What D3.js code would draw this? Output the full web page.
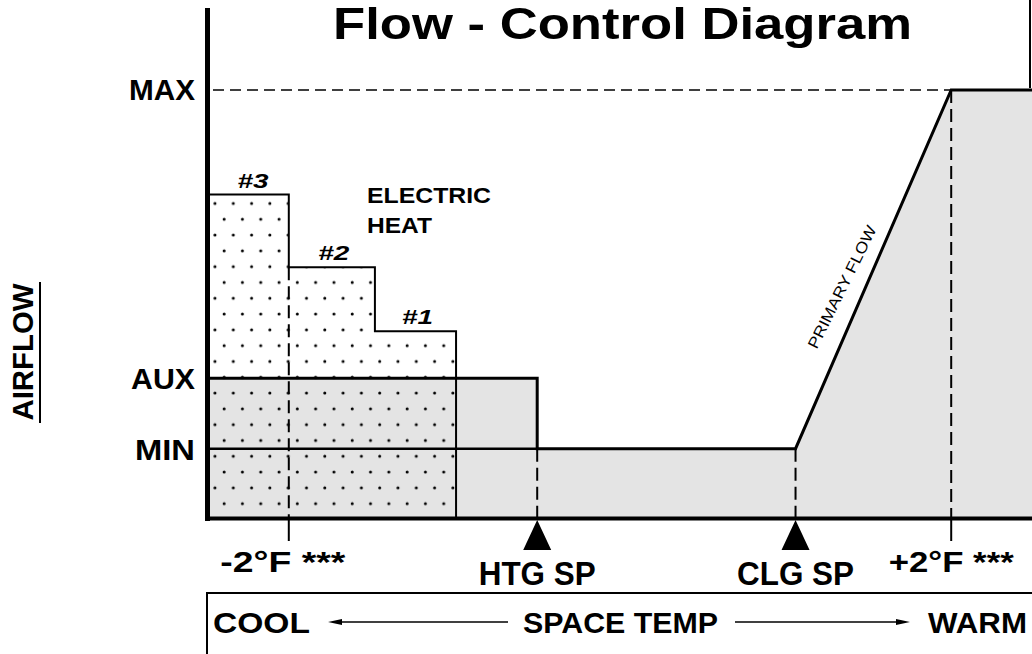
<!DOCTYPE html>
<html>
<head>
<meta charset="utf-8">
<script src="https://cdn.jsdelivr.net/npm/d3@7"></script>
<style>
  body { margin: 0; background: #fff; }
  svg { display: block; font-family: 'Liberation Sans', Arial, sans-serif; }
  text { font-weight: bold; fill: #000; }
</style>
</head>
<body>
<svg width="1032" height="654"></svg>
<script>
  // airflow levels (% of max)
  const levelNames = ['MIN', 'AUX', 'MAX'];
  const levelValues = [16, 32.5, 100];

  // electric heat stages
  const stageNames = ['#3', '#2', '#1'];
  const stageEnds = [-2, -1.48, -0.99];
  const stageTops = [75.5, 58.5, 43.5];

  // setpoints and offsets (space temp, deg F)
  const setpointNames = ['HTG SP', 'CLG SP'];
  const setpointTemps = [-0.5, 1.06];
  const offsetLabels = ['-2°F ***', '+2°F ***'];
  const offsetTemps = [-2, 2];
  const tempDomain = [-2.5, 2.5];

  // primary flow profile
  const flowTemps = [-2.5, -0.5, -0.5, 1.06, 2, 2.5];
  const flowLevels = ['AUX', 'AUX', 'MIN', 'MIN', 'MAX', 'MAX'];

  const svg = d3.select('svg');
  const lvl = name => levelValues[levelNames.indexOf(name)];

  const x = d3.scaleLinear().domain(tempDomain).range([206, 1034]);
  const y = d3.scaleLinear().domain([0, 100]).range([517, 90]);
  const base = y(0);

  // dot pattern
  const defs = svg.append('defs');
  const pat = defs.append('pattern')
    .attr('id', 'dots')
    .attr('patternUnits', 'userSpaceOnUse')
    .attr('x', 215 - 4.6).attr('y', 203.5 - 4)
    .attr('width', 18.3).attr('height', 31.6);
  pat.append('circle').attr('cx', 4.6).attr('cy', 4).attr('r', 1.5).attr('fill', '#000');
  pat.append('circle').attr('cx', 13.75).attr('cy', 19.8).attr('r', 1.5).attr('fill', '#000');

  // gray area under primary flow
  const flowPts = flowTemps.map((t, i) => [x(t), y(lvl(flowLevels[i]))]);
  const areaPts = [[x(tempDomain[0]), base], ...flowPts, [x(tempDomain[1]), base]];
  svg.append('path')
    .attr('d', d3.line()(areaPts) + 'Z')
    .attr('fill', '#e4e4e4');

  // electric heat stages area
  const stagePts = [[x(tempDomain[0]), base]];
  let prev = x(tempDomain[0]);
  stageEnds.forEach((e, i) => {
    stagePts.push([prev, y(stageTops[i])]);
    stagePts.push([x(e), y(stageTops[i])]);
    prev = x(e);
  });
  stagePts.push([prev, base]);
  svg.append('path')
    .attr('d', d3.line()(stagePts) + 'Z')
    .attr('fill', 'url(#dots)');

  // dashed guides
  const dashed = svg.append('g')
    .attr('stroke', '#000').attr('stroke-width', 2)
    .attr('stroke-dasharray', '13,6').attr('fill', 'none');
  dashed.append('line')
    .attr('x1', x(tempDomain[0]) + 7).attr('x2', x(offsetTemps[1]))
    .attr('y1', y(lvl('MAX'))).attr('y2', y(lvl('MAX')))
    .attr('stroke-dasharray', '11,6').attr('stroke-width', 1.5);
  dashed.append('line')
    .attr('x1', x(offsetTemps[0])).attr('x2', x(offsetTemps[0]))
    .attr('y1', y(stageTops[1])).attr('y2', base);
  dashed.append('line')
    .attr('x1', x(offsetTemps[1])).attr('x2', x(offsetTemps[1]))
    .attr('y1', y(lvl('MAX'))).attr('y2', base);
  setpointTemps.forEach(t => {
    dashed.append('line')
      .attr('x1', x(t)).attr('x2', x(t))
      .attr('y1', y(lvl('MIN'))).attr('y2', base);
  });

  // stage outlines
  svg.append('path')
    .attr('d', d3.line()(stagePts.slice(1)))
    .attr('fill', 'none').attr('stroke', '#000').attr('stroke-width', 2);

  // MIN line through heat area
  svg.append('line')
    .attr('x1', x(tempDomain[0])).attr('x2', x(setpointTemps[0]))
    .attr('y1', y(lvl('MIN'))).attr('y2', y(lvl('MIN')))
    .attr('stroke', '#000').attr('stroke-width', 2.5);

  // primary flow line
  svg.append('path')
    .attr('d', d3.line()(flowPts))
    .attr('fill', 'none').attr('stroke', '#000')
    .attr('stroke-width', 3).attr('stroke-linejoin', 'miter');

  // axes
  svg.append('line')
    .attr('x1', 207.5).attr('x2', 207.5).attr('y1', 8).attr('y2', 521)
    .attr('stroke', '#000').attr('stroke-width', 5);
  svg.append('line')
    .attr('x1', 205).attr('x2', 1032).attr('y1', base + 1.5).attr('y2', base + 1.5)
    .attr('stroke', '#000').attr('stroke-width', 4);

  // ticks for offsets
  offsetTemps.forEach(t => {
    svg.append('line')
      .attr('x1', x(t)).attr('x2', x(t)).attr('y1', base + 2).attr('y2', 541)
      .attr('stroke', '#000').attr('stroke-width', 2);
  });

  // setpoint triangles
  svg.selectAll('.tri').data(setpointTemps).enter().append('path')
    .attr('class', 'tri')
    .attr('d', t => `M${x(t)},${base + 3} L${x(t) + 14},550 L${x(t) - 14},550 Z`)
    .attr('fill', '#000');

  // top-right box edge
  svg.append('line')
    .attr('x1', 1030).attr('x2', 1030).attr('y1', 0).attr('y2', 88)
    .attr('stroke', '#000').attr('stroke-width', 2);

  // bottom box
  svg.append('path')
    .attr('d', 'M207,654 L207,593 L1034,593')
    .attr('fill', 'none').attr('stroke', '#000').attr('stroke-width', 2);

  const txt = (s, px, py, size, len, anchor) => svg.append('text')
    .attr('x', px).attr('y', py)
    .attr('font-size', size)
    .attr('text-anchor', anchor || 'start')
    .attr('textLength', len)
    .attr('lengthAdjust', 'spacingAndGlyphs')
    .text(s);

  // title
  txt('Flow - Control Diagram', 333, 39, 44, 579);

  // level labels
  const levelLens = [60, 64, 66];
  const levelBase = [11, 11, 10];
  levelNames.forEach((n, i) => {
    txt(n, 195, y(levelValues[i]) + levelBase[i], 29, levelLens[i], 'end');
  });

  // AIRFLOW
  svg.append('text')
    .attr('transform', 'translate(33,352) rotate(-90)')
    .attr('font-size', 29).attr('text-anchor', 'middle')
    .attr('textLength', 137).attr('lengthAdjust', 'spacingAndGlyphs')
    .text('AIRFLOW');
  svg.append('line')
    .attr('x1', 40).attr('x2', 40).attr('y1', 282).attr('y2', 423)
    .attr('stroke', '#000').attr('stroke-width', 2);

  // stage labels
  let left = x(tempDomain[0]) + 7;
  stageNames.forEach((n, i) => {
    const cx = (left + x(stageEnds[i])) / 2 + 2;
    txt(n, cx, y(stageTops[i]) - 7, 20, 31, 'middle').attr('font-style', 'italic');
    left = x(stageEnds[i]);
  });

  txt('ELECTRIC', 367, 203, 22, 124);
  txt('HEAT', 367, 233, 22, 65);

  // primary flow label
  svg.append('text')
    .attr('transform', 'translate(842,287) rotate(-63.5)')
    .attr('font-size', 15.5)
    .attr('text-anchor', 'middle').attr('dy', '0.35em')
    .attr('textLength', 135).attr('lengthAdjust', 'spacingAndGlyphs')
    .style('font-weight', 'normal')
    .text('PRIMARY FLOW');

  // x labels
  offsetLabels.forEach((l, i) => {
    txt(l, x(offsetTemps[i]) - (i === 0 ? 6 : 0), 572, 30, 125, 'middle');
  });
  setpointNames.forEach((n, i) => {
    txt(n, x(setpointTemps[i]), 585, 33, 117, 'middle');
  });

  // bottom box contents
  txt('COOL', 213, 633, 30, 97);
  txt('SPACE TEMP', 620.5, 633, 30, 195, 'middle');
  txt('WARM', 928, 633, 30, 99);

  const arrow = (x1, x2) => {
    const dir = Math.sign(x2 - x1);
    svg.append('line')
      .attr('x1', x1).attr('x2', x2 - dir * 10).attr('y1', 622).attr('y2', 622)
      .attr('stroke', '#000').attr('stroke-width', 1.5);
    svg.append('path')
      .attr('d', `M${x2},622 L${x2 - dir * 14},619 L${x2 - dir * 14},625 Z`)
      .attr('fill', '#000');
  };
  arrow(508, 328);
  arrow(735, 910);
</script>
</body>
</html>
